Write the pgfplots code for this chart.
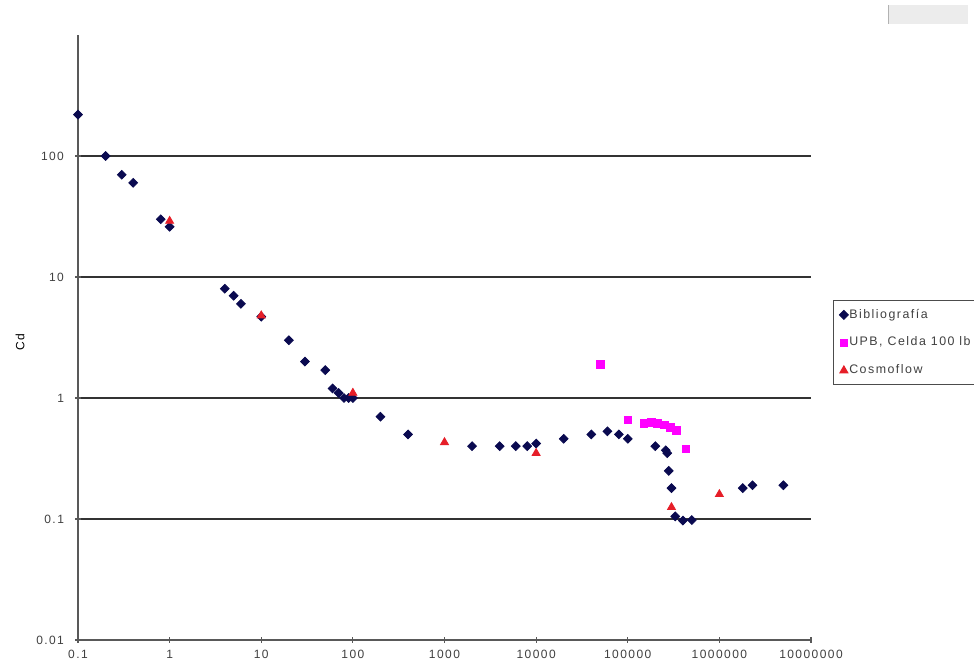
\documentclass[border=0pt]{standalone}
\usepackage{fontspec}
\setmainfont{Liberation Sans}
\newfontfamily\lblfont[LetterSpace=12]{Liberation Sans}
\usepackage{pgfplots}
\pgfplotsset{compat=1.18}

\definecolor{biblio}{RGB}{10,10,80}
\definecolor{upb}{RGB}{255,0,255}
\definecolor{cosmo}{RGB}{230,30,40}

\begin{document}
\begin{tikzpicture}
\useasboundingbox (0,0) rectangle (487pt,336pt);
\clip (0,0) rectangle (487pt,336pt);
\fill[white] (0,0) rectangle (487pt,336pt);
% small grey tab at the top right
\fill[gray!15] (444pt,324pt) rectangle (484pt,333.5pt);
\draw[gray!60] (444pt,324pt) -- (444pt,333.5pt);
% axis title
\node[rotate=90, font=\lblfont\fontsize{6}{7}\selectfont] at (10pt,165pt) {Cd};
\begin{axis}[
  at={(39pt,16pt)}, anchor=south west,
  scale only axis, width=366.5pt, height=302.5pt,
  xmode=log, ymode=log,
  xmin=0.1, xmax=1e7, ymin=0.01, ymax=1000,
  axis x line=bottom, axis y line=left,
  axis line style={gray!70!black, line width=0.8pt, -},
  xtick={0.1,1,10,100,1000,10000,100000,1000000,10000000},
  xticklabels={0.1,1,10,100,1000,10000,100000,1000000,10000000},
  ytick={0.01,0.1,1,10,100},
  yticklabels={0.01,0.1,1,10,100},
  xminorticks=false, yminorticks=false,
  tick align=center, major tick length=3pt,
  tick style={gray!70!black, line width=0.6pt},
  ticklabel style={font=\lblfont\fontsize{6}{7}\selectfont, text=black!75},
  yticklabel style={xshift=-2pt},
  ymajorgrids, xmajorgrids=false,
  major grid style={black!80, line width=0.9pt},
  clip=false,
  legend style={at={(1.030,0.562)}, anchor=north west,
    draw=black!70, line width=0.5pt, fill=white,
    font=\lblfont\fontsize{6.2}{7}\selectfont, text=black!75,
    row sep=3.9pt, inner xsep=3pt, inner ysep=2.2pt,
    nodes={inner xsep=0.5pt}},
  legend cell align=left,
  legend image code/.code={\draw plot coordinates {(0.1cm,0cm)};},
]
% Bibliografía
\addplot[only marks, mark=square*, mark size=1.55pt, mark options={rotate=45}, color=biblio] coordinates {
(0.1,220) (0.2,100) (0.3,70) (0.4,60) (0.8,30) (1,26)
(4,8) (5,7) (6,6) (10,4.7) (20,3) (30,2) (50,1.7) (60,1.2) (70,1.1)
(80,1.0) (90,1.0) (100,1.0) (200,0.7) (400,0.5)
(2000,0.4) (4000,0.4) (6000,0.4) (8000,0.4) (10000,0.42)
(20000,0.46) (40000,0.5) (60000,0.53) (80000,0.5) (100000,0.46)
(200000,0.4) (260000,0.37) (270000,0.35) (280000,0.25) (300000,0.18)
(330000,0.105) (400000,0.097) (500000,0.098)
(1800000,0.18) (2300000,0.19) (5000000,0.19)
};
\addlegendentry{Bibliografía}
% UPB, Celda 100 lb
\addplot[only marks, mark=square*, mark size=1.9pt, color=upb] coordinates {
(50000,1.9) (100000,0.66) (150000,0.62) (180000,0.63) (210000,0.62)
(250000,0.60) (290000,0.57) (340000,0.54) (430000,0.38)
};
\addlegendentry{UPB, Celda 100 lb\hspace{24pt}}
% Cosmoflow
\addplot[only marks, mark=triangle*, mark size=2.3pt, color=cosmo] coordinates {
(1,29) (10,4.8) (100,1.1) (1000,0.43) (10000,0.35) (300000,0.125) (1000000,0.16)
};
\addlegendentry{Cosmoflow}
\end{axis}
\end{tikzpicture}
\end{document}
